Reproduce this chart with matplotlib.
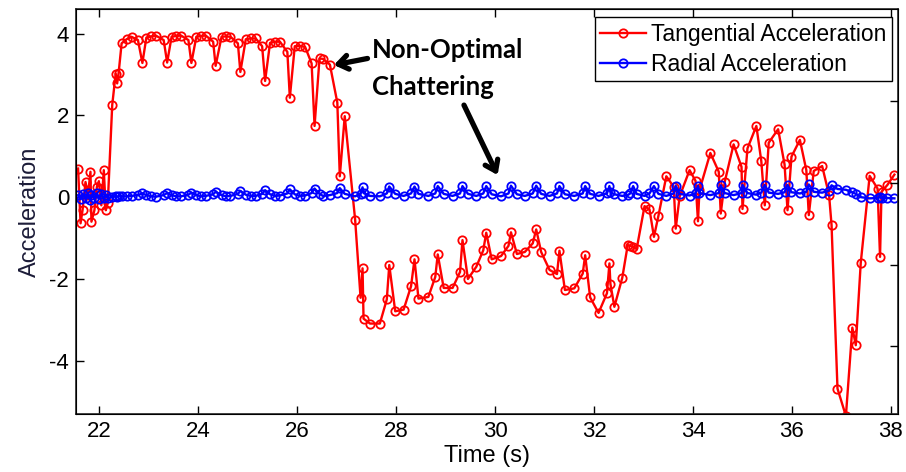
import matplotlib
matplotlib.use('Agg')
import matplotlib.pyplot as plt
import numpy as np

# sample times (s)
t = [21.57, 21.62, 21.66, 21.72, 21.77, 21.82, 21.84, 21.90, 21.95, 21.99,
     22.04, 22.09, 22.13, 22.17, 22.26, 22.33, 22.36, 22.39, 22.45, 22.55,
     22.65, 22.78, 22.87, 22.95, 23.05, 23.14, 23.30, 23.37, 23.46, 23.55,
     23.65, 23.80, 23.86, 23.96, 24.05, 24.15, 24.30, 24.35, 24.47, 24.56,
     24.65, 24.80, 24.85, 24.96, 25.06, 25.16, 25.29, 25.35, 25.45, 25.55,
     25.65, 25.80, 25.85, 25.95, 26.05, 26.16, 26.29, 26.35, 26.45, 26.52,
     26.66, 26.81, 26.86, 26.96, 27.17, 27.28, 27.32, 27.34, 27.47, 27.67,
     27.81, 27.86, 27.98, 28.15, 28.30, 28.37, 28.45, 28.65, 28.79, 28.84,
     28.96, 29.14, 29.29, 29.34, 29.45, 29.62, 29.76, 29.82, 29.93, 30.12,
     30.27, 30.32, 30.44, 30.60, 30.76, 30.83, 30.93, 31.10, 31.25, 31.30,
     31.41, 31.60, 31.77, 31.82, 31.92, 32.09, 32.26, 32.31, 32.33, 32.41,
     32.57, 32.68, 32.73, 32.79, 32.86, 33.02, 33.12, 33.21, 33.30, 33.46,
     33.61, 33.65, 33.73, 33.93, 34.05, 34.10, 34.13, 34.35, 34.52, 34.56,
     34.64, 34.82, 34.98, 35.00, 35.10, 35.28, 35.38, 35.45, 35.53, 35.72,
     35.85, 35.91, 35.99, 36.16, 36.29, 36.34, 36.44, 36.61, 36.75, 36.80,
     36.92, 37.09, 37.22, 37.29, 37.39, 37.57, 37.73, 37.78, 37.81, 37.93,
     38.07]

tangential = [0.70, -0.64, -0.32, 0.37, 0.05, 0.62, -0.60, -0.32, 0.25, 0.39,
              -0.20, 0.66, -0.32, -0.15, 2.25, 3.02, 2.78, 3.04, 3.76, 3.86,
              3.92, 3.84, 3.28, 3.90, 3.93, 3.95, 3.84, 3.29, 3.92, 3.94,
              3.95, 3.84, 3.28, 3.92, 3.94, 3.95, 3.80, 3.21, 3.92, 3.93,
              3.92, 3.76, 3.06, 3.86, 3.88, 3.88, 3.69, 2.84, 3.77, 3.80,
              3.80, 3.55, 2.43, 3.69, 3.70, 3.67, 3.27, 1.74, 3.39, 3.38,
              3.24, 2.31, 0.51, 1.98, -0.55, -2.46, -1.74, -2.97, -3.09, -3.09,
              -2.50, -1.66, -2.79, -2.75, -2.18, -1.52, -2.48, -2.44, -1.95, -1.40,
              -2.22, -2.22, -1.83, -1.05, -2.00, -1.70, -1.30, -0.87, -1.52, -1.44,
              -1.19, -0.86, -1.39, -1.34, -1.13, -0.79, -1.34, -1.78, -1.88, -1.31,
              -2.27, -2.23, -1.87, -1.42, -2.45, -2.83, -2.35, -1.62, -2.12, -2.68,
              -1.97, -1.17, -1.19, -1.22, -1.27, -0.22, -0.30, -0.97, -0.46, 0.51,
              0.25, -0.77, 0.02, 0.66, 0.40, -0.59, 0.17, 1.08, 0.62, -0.40,
              0.37, 1.29, 0.74, -0.29, 1.19, 1.74, 0.88, -0.20, 1.33, 1.66,
              0.80, -0.32, 0.99, 1.40, 0.66, -0.44, 0.64, 0.76, 0.05, -0.68,
              -4.68, -5.35, -3.19, -3.62, -1.61, 0.52, 0.21, -1.46, 0.13, 0.30,
              0.55]

radial = [0.05, -0.05, 0.08, -0.03, 0.10, -0.06, 0.06, -0.02, 0.09, -0.04,
          0.08, -0.02, 0.05, -0.03, 0.00, 0.02, 0.01, 0.03, 0.02, 0.02,
          0.03, 0.05, 0.09, 0.05, 0.02, 0.01, 0.05, 0.10, 0.05, 0.02,
          0.02, 0.06, 0.11, 0.05, 0.02, 0.03, 0.07, 0.13, 0.05, 0.02,
          0.03, 0.08, 0.15, 0.06, 0.03, 0.03, 0.08, 0.17, 0.07, 0.03,
          0.04, 0.09, 0.19, 0.07, 0.03, 0.04, 0.10, 0.21, 0.08, 0.03,
          0.05, 0.10, 0.22, 0.08, 0.02, 0.08, 0.24, 0.10, 0.03, 0.02,
          0.09, 0.26, 0.08, 0.03, 0.09, 0.26, 0.08, 0.03, 0.09, 0.27,
          0.08, 0.03, 0.09, 0.27, 0.08, 0.03, 0.09, 0.27, 0.07, 0.02,
          0.09, 0.28, 0.07, 0.03, 0.09, 0.28, 0.08, 0.03, 0.09, 0.27,
          0.07, 0.03, 0.09, 0.27, 0.08, 0.03, 0.09, 0.27, 0.12, 0.07,
          0.03, 0.05, 0.09, 0.27, 0.08, 0.03, 0.09, 0.27, 0.08, 0.03,
          0.09, 0.28, 0.08, 0.04, 0.09, 0.28, 0.10, 0.05, 0.10, 0.29,
          0.10, 0.05, 0.10, 0.30, 0.10, 0.06, 0.11, 0.30, 0.11, 0.08,
          0.12, 0.30, 0.12, 0.09, 0.13, 0.31, 0.13, 0.11, 0.16, 0.29,
          0.20, 0.18, 0.12, 0.08, 0.00, -0.03, -0.02, 0.00, -0.03, -0.02,
          -0.03]

plt.rcParams['font.family'] = ['Liberation Sans', 'DejaVu Sans']
plt.rcParams['axes.unicode_minus'] = False

fig = plt.figure(figsize=(9.06, 4.72), dpi=100)
ax = fig.add_axes([0.084, 0.123, 0.907, 0.858])

ax.plot(t, tangential, '-o', color='#ff0000', lw=1.7, ms=6, mfc='none',
        mew=1.3, label='Tangential Acceleration')
ax.plot(t, radial, '-o', color='#0000ff', lw=1.7, ms=6, mfc='none',
        mew=1.3, label='Radial Acceleration')

ax.set_xlim(21.53, 38.14)
ax.set_ylim(-5.3, 4.6)
ax.set_xticks(np.arange(22, 39, 2))
ax.set_yticks([-4, -2, 0, 2, 4])
ax.tick_params(direction='in', length=6, width=1, labelsize=16, pad=5,
               top=True, right=False)
for s in ax.spines.values():
    s.set_linewidth(1.2)
    s.set_color('#262626')

# right-hand ticks sit slightly offset from the left ones
ax2 = ax.twinx()
ax2.set_ylim(-5.3, 4.6)
ax2.set_yticks([2.35, 0.35, -1.65, -3.65])
ax2.set_yticklabels([])
ax2.tick_params(direction='in', length=6, width=1)

ax.set_xlabel('Time (s)', fontsize=17, labelpad=2)
ax.set_ylabel('Acceleration', fontsize=17, color='#1c1c38', labelpad=6)

leg = ax.legend(loc='upper right', bbox_to_anchor=(0.9927, 0.980),
                borderaxespad=0, fontsize=16.5, handlelength=2.0,
                handletextpad=0.2, labelspacing=0.3, borderpad=0.25,
                fancybox=False, edgecolor='black', framealpha=1)
leg.get_frame().set_linewidth(1.0)

ax.text(27.506, 3.40, 'Non-Optimal', fontsize=18.5, fontweight='bold',
        family=['Lato', 'DejaVu Sans'], va='baseline', ha='left')
ax.text(27.506, 2.49, 'Chattering', fontsize=18.5, fontweight='bold',
        family=['Lato', 'DejaVu Sans'], va='baseline', ha='left')

arrow = dict(arrowstyle='->,head_length=0.7,head_width=0.5', lw=3.8,
             color='black', shrinkA=0, shrinkB=0)
ax.annotate('', xy=(26.74, 3.23), xytext=(27.42, 3.39), arrowprops=arrow)
ax.annotate('', xy=(30.05, 0.54), xytext=(29.37, 2.25), arrowprops=arrow)

fig.savefig('out.png', dpi=100)
